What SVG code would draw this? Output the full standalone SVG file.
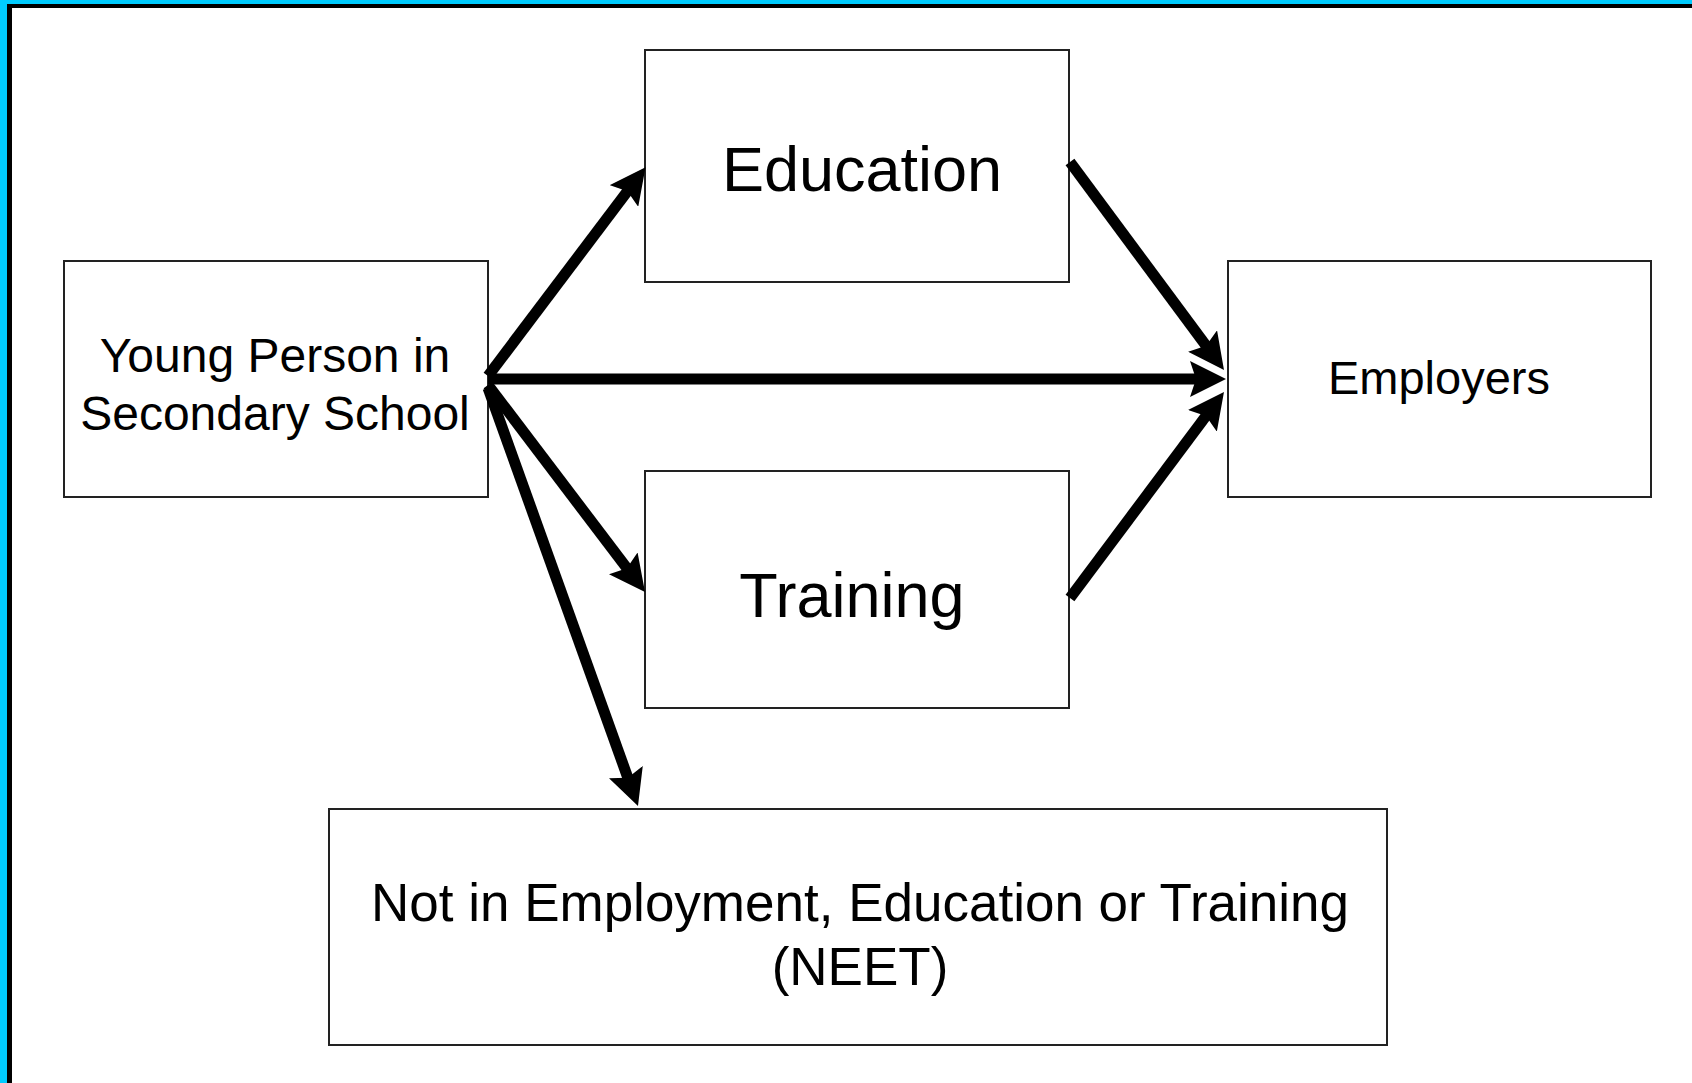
<svg xmlns="http://www.w3.org/2000/svg" width="1692" height="1083" viewBox="0 0 1692 1083">
  <style>
    .box { fill: #ffffff; stroke: #222222; stroke-width: 2; }
    .lbl { font-family: "Liberation Sans", Arial, sans-serif; fill: #000000; text-anchor: middle; }
    .conn { stroke: #000000; stroke-width: 11; fill: none; marker-end: url(#arrow); }
  </style>
  <defs>
    <marker id="arrow" markerUnits="userSpaceOnUse" viewBox="0 0 36 36" markerWidth="36" markerHeight="36" refX="15" refY="18" orient="auto">
      <path d="M0,0 L36,18 L0,36 L6,18 z" fill="#000000"/>
    </marker>
  </defs>
  <rect x="0" y="0" width="1692" height="1083" fill="#ffffff"/>
  <g id="frame">
    <rect x="0" y="0" width="7" height="1083" fill="#00ccff"/>
    <rect x="0" y="0" width="1692" height="4" fill="#00ccff"/>
    <rect x="7" y="4" width="5" height="1079" fill="#000000"/>
    <rect x="7" y="4" width="1685" height="4" fill="#000000"/>
  </g>
  <g id="node-young">
    <rect class="box" x="64" y="261" width="424" height="236"/>
    <text class="lbl" x="275" y="372" font-size="48">Young Person in</text>
    <text class="lbl" x="275" y="430" font-size="48">Secondary School</text>
  </g>
  <g id="node-education">
    <rect class="box" x="645" y="50" width="424" height="232"/>
    <text class="lbl" x="862" y="191" font-size="63">Education</text>
  </g>
  <g id="node-training">
    <rect class="box" x="645" y="471" width="424" height="237"/>
    <text class="lbl" x="852" y="617" font-size="63">Training</text>
  </g>
  <g id="node-employers">
    <rect class="box" x="1228" y="261" width="423" height="236"/>
    <text class="lbl" x="1439" y="394" font-size="47">Employers</text>
  </g>
  <g id="node-neet">
    <rect class="box" x="329" y="809" width="1058" height="236"/>
    <text class="lbl" x="860" y="921" font-size="53">Not in Employment, Education or Training</text>
    <text class="lbl" x="860" y="985" font-size="53">(NEET)</text>
  </g>
  <g id="connectors">
    <line class="conn" x1="488" y1="376" x2="632.9" y2="184.0"/>
    <line class="conn" x1="488" y1="379" x2="1205" y2="379"/>
    <line class="conn" x1="1070" y1="162" x2="1211.5" y2="353.1"/>
    <line class="conn" x1="1070" y1="598" x2="1211.4" y2="408.8"/>
    <line class="conn" x1="488" y1="385" x2="632.3" y2="575.3"/>
    <line class="conn" x1="488" y1="388" x2="630.9" y2="786.3"/>
  </g>
</svg>
